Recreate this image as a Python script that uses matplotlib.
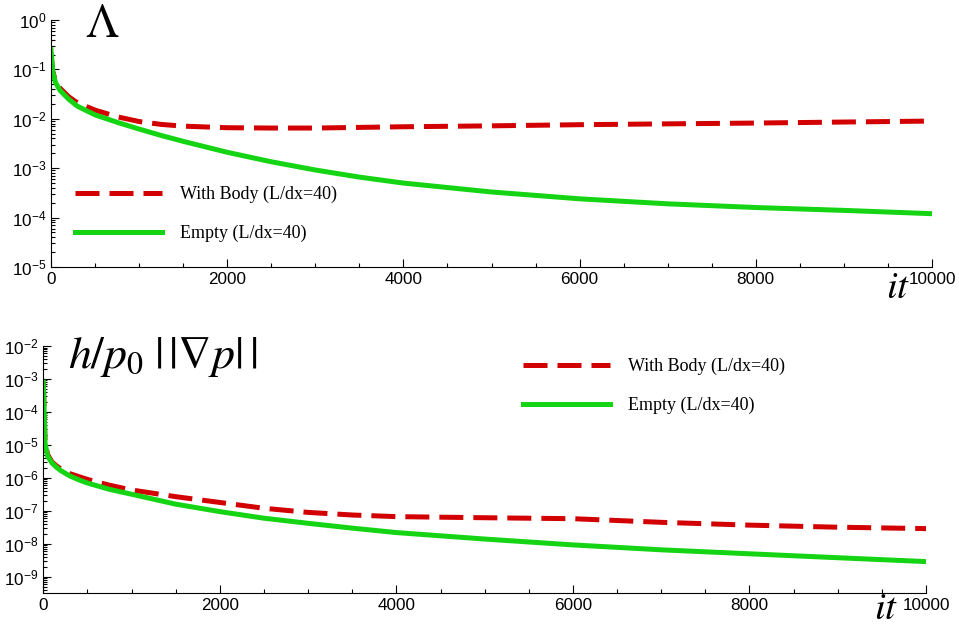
import numpy as np
import matplotlib
matplotlib.use("Agg")
from matplotlib import pyplot as plt
from matplotlib.ticker import LogLocator, MultipleLocator, NullFormatter

plt.rcParams["font.family"] = "Liberation Sans"
plt.rcParams["mathtext.fontset"] = "stix"

it_pts = [0, 20, 50, 100, 200, 300, 500, 750, 1000, 1250, 1500, 2000, 2500,
          3000, 3500, 4000, 5000, 6000, 7000, 8000, 9000, 10000]

# top panel: Lambda
lam_body = [0.2, 0.09, 0.06, 0.042, 0.028, 0.021, 0.015, 0.011, 0.0088, 0.0077,
            0.0071, 0.0066, 0.0065, 0.0065, 0.0067, 0.0069, 0.0072, 0.0076,
            0.0079, 0.0082, 0.0086, 0.009]
lam_empty = [0.25, 0.09, 0.055, 0.038, 0.025, 0.018, 0.012, 0.0085, 0.0062,
             0.0046, 0.0035, 0.0021, 0.00135, 9.2e-4, 6.6e-4, 5e-4, 3.3e-4,
             2.4e-4, 1.9e-4, 1.6e-4, 1.4e-4, 1.2e-4]

# bottom panel: h/p0 ||grad p||
it_pts2 = [0, 10, 20, 50, 100, 150, 200, 300, 400, 500, 750, 1000, 1500, 2000,
           2500, 3000, 3500, 4000, 5000, 6000, 7000, 8000, 9000, 10000]
grad_body = [8e-4, 1e-4, 1.2e-5, 5e-6, 3e-6, 2.3e-6, 1.85e-6, 1.35e-6, 1.1e-6,
             9e-7, 6e-7, 4.3e-7, 2.7e-7, 1.8e-7, 1.2e-7, 9e-8, 7.5e-8, 6.7e-8,
             6.2e-8, 5.8e-8, 4.5e-8, 3.7e-8, 3.2e-8, 2.9e-8]
grad_empty = [8e-4, 1e-4, 1.1e-5, 4.5e-6, 2.8e-6, 2.1e-6, 1.65e-6, 1.15e-6,
              8.8e-7, 7e-7, 4.5e-7, 3.2e-7, 1.6e-7, 9.5e-8, 6e-8, 4.2e-8, 3e-8,
              2.2e-8, 1.4e-8, 9.3e-9, 6.6e-9, 5e-9, 3.8e-9, 2.9e-9]

labels = ["With Body (L/dx=40)", "Empty (L/dx=40)"]
red = "#d20000"
green = "#14d414"

W, H = 959, 626
fig = plt.figure(figsize=(W / 100, H / 100), dpi=100)
ax1 = fig.add_axes([51 / W, 1 - 267 / H, (932 - 51) / W, (267 - 20) / H])
ax2 = fig.add_axes([43.3 / W, 1 - 593 / H, (926 - 43.3) / W, (593 - 346) / H])


def style(ax, ylo, yhi):
    ax.set_yscale("log")
    ax.set_xlim(0, 10000)
    ax.set_ylim(ylo, yhi)
    ax.spines["top"].set_visible(False)
    ax.spines["right"].set_visible(False)
    ax.xaxis.set_major_locator(MultipleLocator(2000))
    ax.xaxis.set_minor_locator(MultipleLocator(500))
    ax.yaxis.set_major_locator(LogLocator(base=10, numticks=20))
    ax.yaxis.set_minor_locator(LogLocator(base=10, subs=np.arange(2, 10), numticks=20))
    ax.yaxis.set_minor_formatter(NullFormatter())
    ax.tick_params(which="both", direction="in", labelsize=12.3, width=0.8)
    ax.tick_params(which="major", length=6)
    ax.tick_params(which="minor", length=3)


def draw(ax, x, body, empty, anchor):
    ax.plot(x, body, color=red, lw=3.6, dashes=(4.8, 2.0), solid_capstyle="butt",
            dash_capstyle="butt", label=labels[0])
    ax.plot(x, empty, color=green, lw=3.6, label=labels[1])
    ax.legend(loc="upper left", bbox_to_anchor=anchor, bbox_transform=fig.transFigure,
              frameon=False, prop={"family": "Liberation Serif", "size": 13},
              handlelength=4.8, handletextpad=1.0, labelspacing=1.2,
              borderpad=0, borderaxespad=0)


style(ax1, 1e-5, 1)
style(ax2, 10 ** -9.49, 1e-2)
draw(ax1, it_pts, lam_body, lam_empty, (75 / W, 1 - 186 / H))
draw(ax2, it_pts2, grad_body, grad_empty, (523 / W, 1 - 358 / H))

fig.text(85 / W, 1 - 37 / H, r"$\Lambda$", fontsize=34, va="baseline")
fig.text(68 / W, 1 - 368 / H, r"$h/p_{\mathit{0}}\;|\,|\nabla p|\,|$", fontsize=33,
         va="baseline")
fig.text(886 / W, 1 - 298 / H, r"$it$", fontsize=28, va="baseline")
fig.text(874 / W, 1 - 619 / H, r"$it$", fontsize=28, va="baseline")

fig.savefig("out.png", dpi=100)
